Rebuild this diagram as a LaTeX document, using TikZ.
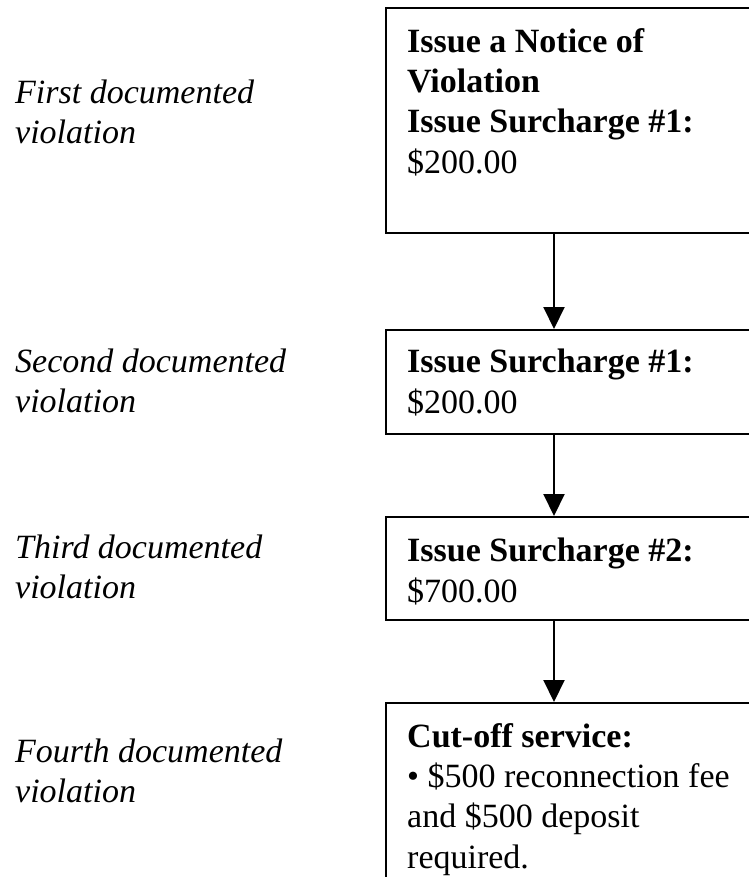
\documentclass[tikz,border=0pt]{standalone}
\usepackage{fontspec}
\setmainfont{Liberation Serif}
\usetikzlibrary{arrows.meta}
\begin{document}
\begin{tikzpicture}[x=1pt,y=-1pt,
  boxst/.style={draw=black, line width=2pt, anchor=north west, minimum width=420pt, inner sep=0pt},
  txt/.style={anchor=base west, align=left, inner sep=0pt, font=\fontsize{34}{40.3}\selectfont},
  lbl/.style={anchor=base west, align=left, inner sep=0pt, font=\fontsize{34}{39.5}\selectfont\itshape},
  arr/.style={-{Triangle[width=21pt,length=22pt]}, line width=2pt}]
\useasboundingbox (0,0) rectangle (749,884);
\clip (-5,-5) rectangle (749,876);
\node[boxst, minimum height=225pt] (box1) at (385,7) {};
\node[boxst, minimum height=104pt] (box2) at (385,329) {};
\node[boxst, minimum height=103pt] (box3) at (385,516) {};
\node[boxst, minimum height=200pt] (box4) at (385,702) {};
\node[txt] (t1) at (407,173) {\textbf{Issue a Notice of}\\\textbf{Violation}\\\textbf{Issue Surcharge \#1:}\\\$200.00};
\node[txt] (t2) at (407,413) {\textbf{Issue Surcharge \#1:}\\\$200.00};
\node[txt] (t3) at (407,602) {\textbf{Issue Surcharge \#2:}\\\$700.00};
\node[txt] (t4) at (407,868) {\textbf{Cut-off service:}\\• \$500 reconnection fee\\and \$500 deposit\\required.};
\node[lbl] (l1) at (15,143) {First documented\\violation};
\node[lbl] (l2) at (15,412) {Second documented\\violation};
\node[lbl] (l3) at (15,598) {Third documented\\violation};
\node[lbl] (l4) at (15,802) {Fourth documented\\violation};
\draw[arr] ([xshift=169pt]box1.south west) -- ([xshift=169pt]box2.north west);
\draw[arr] ([xshift=169pt]box2.south west) -- ([xshift=169pt]box3.north west);
\draw[arr] ([xshift=169pt]box3.south west) -- ([xshift=169pt]box4.north west);
\end{tikzpicture}
\end{document}
